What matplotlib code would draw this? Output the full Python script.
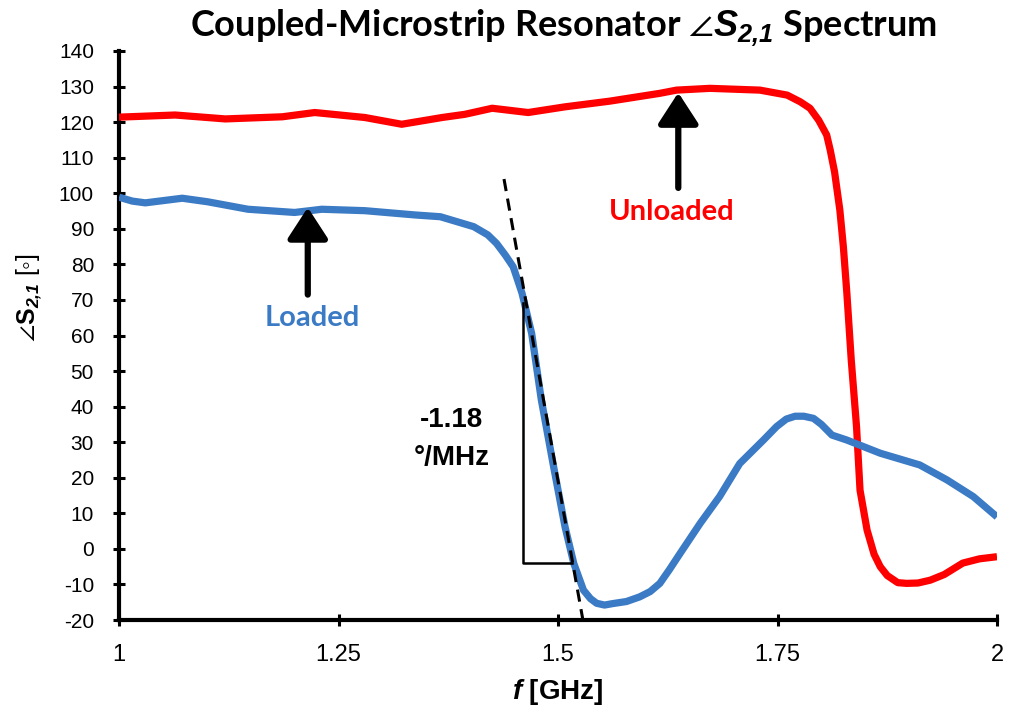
import matplotlib
matplotlib.use("Agg")
import matplotlib.pyplot as plt
from matplotlib import font_manager as fm

# ---------------- data ----------------
f_unloaded = [1.0, 1.064, 1.121, 1.186, 1.223, 1.28, 1.322, 1.368, 1.394, 1.425,
              1.466, 1.508, 1.559, 1.616, 1.635, 1.673, 1.73, 1.761, 1.776, 1.787,
              1.797, 1.806, 1.81, 1.815, 1.821, 1.825, 1.829, 1.834, 1.840, 1.844,
              1.852, 1.860, 1.867, 1.875, 1.887, 1.897, 1.910, 1.924, 1.940, 1.961,
              1.980, 2.0]
s21_unloaded = [121.4, 122.0, 120.9, 121.5, 122.7, 121.3, 119.4, 121.3, 122.2, 123.9,
                122.7, 124.3, 125.9, 128.1, 129.0, 129.5, 129.0, 127.6, 125.7, 123.9,
                120.5, 116.4, 112.2, 106.0, 95.3, 85.0, 71.9, 53.1, 34.4, 16.5,
                5.3, -1.5, -5.0, -7.5, -9.5, -9.7, -9.6, -8.8, -7.2, -4.0,
                -2.8, -2.2]

f_loaded = [1.0, 1.015, 1.030, 1.072, 1.101, 1.147, 1.200, 1.231, 1.280, 1.337,
            1.366, 1.404, 1.420, 1.430, 1.440, 1.449, 1.459, 1.470, 1.481, 1.495,
            1.508, 1.518, 1.529, 1.537, 1.544, 1.553, 1.562, 1.578, 1.593, 1.605,
            1.616, 1.627, 1.639, 1.662, 1.684, 1.707, 1.734, 1.749, 1.760, 1.770,
            1.780, 1.791, 1.800, 1.812, 1.829, 1.867, 1.912, 1.943, 1.973, 2.0]
s21_loaded = [98.9, 97.8, 97.3, 98.6, 97.6, 95.5, 94.6, 95.5, 95.1, 93.9,
              93.4, 90.6, 88.3, 85.9, 82.6, 79.3, 71.9, 60.6, 41.9, 23.1,
              6.2, -4.1, -11.6, -14.0, -15.3, -15.8, -15.4, -14.8, -13.5, -12.0,
              -9.7, -5.8, -1.3, 7.2, 14.7, 24.0, 30.6, 34.4, 36.5, 37.3,
              37.3, 36.7, 35.0, 32.0, 30.6, 26.9, 23.6, 19.4, 14.7, 9.0]

tangent_f = [1.4385, 1.528]
tangent_s = [104.0, -19.5]
triangle_f = [1.4604, 1.4604, 1.5156]
triangle_s = [69.0, -4.1, -4.1]
slope_label = "-1.18\n°/MHz"

x_ticks = [1, 1.25, 1.5, 1.75, 2]
x_ticklabels = ["1", "1.25", "1.5", "1.75", "2"]
y_ticks = list(range(-20, 141, 10))

RED = "#FF0000"
BLUE = "#3B7AC4"

def has_font(name):
    try:
        fm.findfont(fm.FontProperties(family=name), fallback_to_default=False)
        return True
    except Exception:
        return False

ARIAL = "Liberation Sans"
NARROW = "Liberation Sans Narrow" if has_font("Liberation Sans Narrow") else ARIAL
TITLEF = "Lato" if has_font("Lato") else "DejaVu Sans"

plt.rcParams["axes.unicode_minus"] = False
plt.rcParams["mathtext.fontset"] = "custom"
plt.rcParams["mathtext.rm"] = ARIAL
plt.rcParams["mathtext.it"] = ARIAL + ":italic"
plt.rcParams["mathtext.bf"] = ARIAL + ":bold"
plt.rcParams["mathtext.bfit"] = ARIAL + ":bold:italic"
plt.rcParams["mathtext.fallback"] = "stixsans"

fig = plt.figure(figsize=(10.09, 7.25), dpi=100)
ax = fig.add_axes([119 / 1009, 105 / 725, 878 / 1009, 569 / 725])

ax.plot(f_unloaded, s21_unloaded, color=RED, lw=5.2, solid_joinstyle="round",
        solid_capstyle="butt", zorder=3)
ax.plot(f_loaded, s21_loaded, color=BLUE, lw=5.2, solid_joinstyle="round",
        solid_capstyle="butt", zorder=3)

ax.plot(tangent_f, tangent_s, color="black", lw=2.2, ls=(0, (4, 2.5)), zorder=5)
ax.plot(triangle_f, triangle_s, color="black", lw=1.8, zorder=4)

ax.set_xlim(1, 2)
ax.set_ylim(-20, 140)
ax.set_xticks(x_ticks)
ax.set_xticklabels(x_ticklabels)
ax.set_yticks(y_ticks)

for s in ["top", "right"]:
    ax.spines[s].set_visible(False)
for s in ["left", "bottom"]:
    ax.spines[s].set_linewidth(3.0)
    ax.spines[s].set_color("black")
    ax.spines[s].set_capstyle("projecting")

ax.tick_params(axis="both", direction="inout", length=8, width=2.2, color="black")
ax.tick_params(axis="y", pad=14, labelsize=15)
ax.tick_params(axis="x", pad=13, labelsize=17)
for lab in ax.get_yticklabels():
    lab.set_family(ARIAL)
for lab in ax.get_xticklabels():
    lab.set_family(NARROW)

# arrows
arrow_kw = dict(arrowstyle="-|>,head_length=1.0,head_width=0.65", lw=4.5,
                color="black", mutation_scale=19, shrinkA=0, shrinkB=0)
ax.annotate("", xy=(1.215, 96.0), xytext=(1.215, 71.5), arrowprops=arrow_kw, zorder=6)
ax.annotate("", xy=(1.637, 128.3), xytext=(1.637, 101.5), arrowprops=arrow_kw, zorder=6)

ax.text(1.22, 64.9, "Loaded", color=BLUE, fontsize=21, fontweight="bold",
        family=TITLEF, ha="center", va="center")
ax.text(1.63, 94.7, "Unloaded", color=RED, fontsize=21, fontweight="bold",
        family=TITLEF, ha="center", va="center")
ax.text(1.379, 31.0, slope_label, color="black", fontsize=20, fontweight="bold",
        family=ARIAL, ha="center", va="center", linespacing=1.6)

# title and labels
fig.text(0.558, 0.962,
         r"Coupled-Microstrip Resonator $\angle\mathbfit{S}_{\mathbfit{2{,}1}}$ Spectrum",
         fontsize=26, fontweight="bold", family=TITLEF,
         ha="center", va="center")
ax.set_xlabel(r"$\mathbfit{f}$ [GHz]", fontsize=20, fontweight="bold",
              family=NARROW, labelpad=8)
ax.set_ylabel(r"$\angle\mathbf{S}_{\mathbfit{2{,}1}}$ [◦]", fontsize=18,
              family=[ARIAL, "DejaVu Sans"], labelpad=10)
ax.yaxis.set_label_coords(-0.085, 0.566)

fig.savefig("out.png", dpi=100)
